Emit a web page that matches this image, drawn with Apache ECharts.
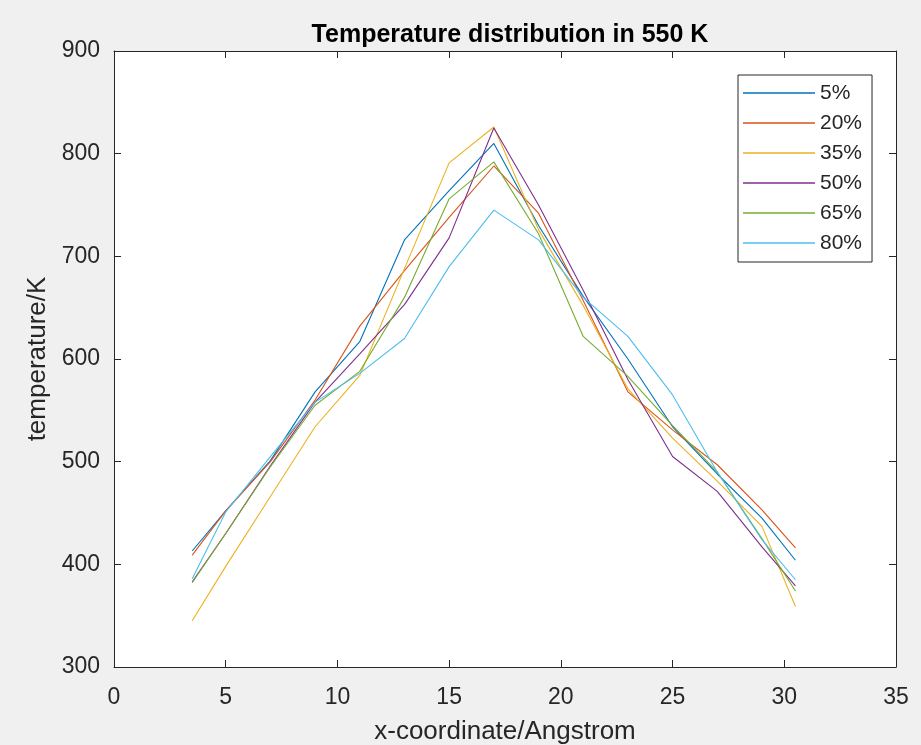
<!DOCTYPE html>
<html>
<head>
<meta charset="utf-8">
<title>Temperature distribution in 550 K</title>
<script src="https://cdn.jsdelivr.net/npm/echarts@6/dist/echarts.min.js"></script>
<style>
  html, body { margin: 0; padding: 0; background: #f0f0f0; }
  #chart { width: 921px; height: 745px; }
</style>
</head>
<body>
<div id="chart"></div>
<script>
// x 坐标 (Angstrom)
const xCoords = [3.5, 5, 7, 9, 11, 13, 15, 17, 19, 21, 23, 25, 27, 29, 30.5];

// 各比例下的温度 (K)
const names = ['5%', '20%', '35%', '50%', '65%', '80%'];
const temp5  = [413, 452, 501, 568, 617, 716, 764, 810, 730, 661, 600, 534, 488, 445, 404];
const temp20 = [409, 452, 500, 560, 632, 686, 738, 788, 742, 657, 568, 531, 497, 453, 416];
const temp35 = [345, 398, 466, 534, 584, 688, 791, 826, 726, 652, 571, 523, 481, 437, 359];
const temp50 = [383, 430, 496, 558, 605, 653, 718, 825, 750, 667, 580, 505, 471, 417, 379];
const temp65 = [382, 430, 495, 555, 588, 660, 756, 792, 722, 622, 583, 535, 490, 425, 374];
const temp80 = [386, 451, 505, 558, 586, 620, 690, 745, 716, 660, 622, 565, 490, 424, 385];
const allTemps = [temp5, temp20, temp35, temp50, temp65, temp80];

// MATLAB 默认配色
const colors = ['#0072BD', '#D95319', '#EDB120', '#7E2F8E', '#77AC30', '#4DBEEE'];

const font = '"Liberation Sans", Arial, sans-serif';
const axisColor = '#262626';

const chart = echarts.init(document.getElementById('chart'));

function makeAxis(extra) {
  return Object.assign({
    type: 'value',
    axisLine: { show: true, onZero: false, lineStyle: { color: axisColor, width: 1 } },
    axisTick: { show: true, inside: true, length: 7, lineStyle: { color: axisColor } },
    axisLabel: { show: false },
    splitLine: { show: false }
  }, extra);
}

const option = {
  backgroundColor: '#f0f0f0',
  color: colors,
  animation: false,
  textStyle: { fontFamily: font },
  title: {
    text: 'Temperature distribution in 550 K',
    left: 505,
    top: 18,
    textAlign: 'center',
    textStyle: { fontFamily: font, fontSize: 25, fontWeight: 'bold', color: '#000' }
  },
  grid: {
    left: 114, right: 25, top: 51, bottom: 78,
    outerBoundsMode: 'none',
    containLabel: false,
    show: true, backgroundColor: '#ffffff', borderWidth: 0
  },
  legend: {
    data: names,
    orient: 'vertical',
    left: 738,
    top: 75,
    icon: 'rect',
    itemWidth: 72,
    itemHeight: 1.5,
    itemGap: 8,
    padding: [7, 10, 8, 5],
    backgroundColor: '#ffffff',
    borderColor: axisColor,
    borderWidth: 1,
    textStyle: { fontFamily: font, fontSize: 21, color: axisColor, lineHeight: 22 }
  },
  xAxis: [
    makeAxis({
      min: 0, max: 35, interval: 5, position: 'bottom',
      axisLabel: { show: true, fontFamily: font, fontSize: 23, color: axisColor, margin: 19 },
      name: 'x-coordinate/Angstrom',
      nameLocation: 'middle',
      nameGap: 52,
      nameTextStyle: { fontFamily: font, fontSize: 26, color: axisColor }
    }),
    makeAxis({ min: 0, max: 35, interval: 5, position: 'top' })
  ],
  yAxis: [
    makeAxis({
      min: 300, max: 900, interval: 100, position: 'left',
      axisLabel: { show: true, fontFamily: font, fontSize: 23, color: axisColor, margin: 14, padding: [12, 0, 0, 0] },
      name: 'temperature/K',
      nameLocation: 'middle',
      nameGap: 62,
      nameTextStyle: { fontFamily: font, fontSize: 26, color: axisColor }
    }),
    makeAxis({ min: 300, max: 900, interval: 100, position: 'right' })
  ],
  series: names.map((n, i) => ({
    name: n,
    type: 'line',
    xAxisIndex: 0,
    yAxisIndex: 0,
    symbol: 'none',
    lineStyle: { width: 1.1, color: colors[i] },
    itemStyle: { color: colors[i] },
    data: xCoords.map((x, j) => [x, allTemps[i][j]])
  }))
};

chart.setOption(option);
</script>
</body>
</html>
